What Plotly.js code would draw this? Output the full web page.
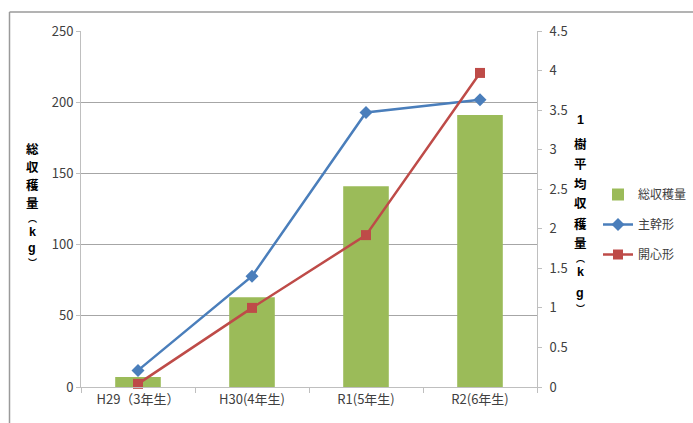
<!DOCTYPE html>
<html>
<head>
<meta charset="utf-8">
<script src="https://cdn.plot.ly/plotly-3.0.1.min.js"></script>
<style>html,body{margin:0;padding:0;background:#fff;}#chart{width:693px;height:423px;}</style>
</head>
<body>
<div id="chart"></div>
<script>
var categories = ["H29（3年生）", "H30(4年生)", "R1(5年生)", "R2(6年生)"];
var totalHarvest = [7, 63, 141, 191];
var mainTrunk = [0.21, 1.40, 3.47, 3.63];
var openCenter = [0.04, 1.00, 1.92, 3.97];
var seriesNames = ["総収穫量", "主幹形", "開心形"];
var leftTitleChars = ["総", "収", "穫", "量", "︵", "k", "g", "︶"];
var rightTitleChars = ["1", "樹", "平", "均", "収", "穫", "量", "︵", "k", "g", "︶"];

var W = 693, H = 423, L = 81, R = 537, T = 31, B = 387;
function px2x(p) { return (p - L) / (R - L); }
function py2y(p) { return (B - p) / (B - T); }

var FONT = "'Liberation Sans Narrow', 'Noto Sans CJK JP', sans-serif";
var CJK = "'Noto Sans CJK JP', sans-serif";
var LATIN = "'Liberation Sans', Arial, sans-serif";
var TXT = "#404040";

var traces = [
  {
    type: "bar", x: categories, y: totalHarvest, name: seriesNames[0],
    marker: {color: "#9bbb59"}, yaxis: "y", legendgroup: "a"
  },
  {
    type: "scatter", mode: "lines+markers", x: categories, y: mainTrunk, name: seriesNames[1],
    line: {color: "#4a7ebb", width: 2.5}, marker: {symbol: "diamond", size: 10, color: "#4a7ebb"},
    yaxis: "y2", legendgroup: "b", cliponaxis: false
  },
  {
    type: "scatter", mode: "lines+markers", x: categories, y: openCenter, name: seriesNames[2],
    line: {color: "#be4b48", width: 2.5}, marker: {symbol: "square", size: 10, color: "#be4b48"},
    yaxis: "y2", legendgroup: "c", cliponaxis: false
  }
];

// vertical (stacked) axis titles: one glyph per annotation, pixel centres for layout only
var leftTitleLayout = {x: 32, ys: [148, 166, 184, 202, 218, 232, 248, 262]};
var rightTitleLayout = {x: 580, ys: [120, 143, 163, 183, 203, 223, 242, 258, 272, 293, 308]};

function glyphFont(c) {
  if (c === "︵" || c === "︶") return {family: CJK, size: 9, color: "#000"};
  if (/[0-9a-z]/.test(c)) return {family: LATIN, size: 12.5, color: "#000"};
  return {family: CJK, size: 12.5, color: "#000"};
}

var annotations = [];
function addStack(chars, lay) {
  chars.forEach(function (c, i) {
    annotations.push({
      xref: "paper", yref: "paper", x: px2x(lay.x), y: py2y(lay.ys[i]),
      xanchor: "center", yanchor: "middle", text: "<b>" + c + "</b>",
      showarrow: false, font: glyphFont(c), borderpad: 0
    });
  });
}
addStack(leftTitleChars, leftTitleLayout);
addStack(rightTitleChars, rightTitleLayout);

var layout = {
  width: W, height: H,
  margin: {l: L, r: W - R, t: T, b: H - B, pad: 0, autoexpand: false},
  paper_bgcolor: "#fff", plot_bgcolor: "#fff",
  bargap: 0.6,
  showlegend: true,
  font: {family: FONT, size: 13, color: TXT},
  xaxis: {
    type: "category", showgrid: false, showline: true, linecolor: "#bfbfbf", linewidth: 1,
    ticks: "outside", tickson: "boundaries", ticklen: 5, tickcolor: "#bfbfbf",
    tickfont: {family: FONT, size: 13, color: TXT}, automargin: false
  },
  yaxis: {
    range: [0, 250], dtick: 50, showgrid: true, gridcolor: "#a6a6a6", gridwidth: 1,
    zeroline: false, showline: true, linecolor: "#bfbfbf", ticks: "outside", ticklen: 4,
    tickcolor: "#bfbfbf", tickfont: {family: FONT, size: 13, color: TXT}, automargin: false
  },
  yaxis2: {
    range: [0, 4.5], dtick: 0.5, overlaying: "y", side: "right", showgrid: false,
    zeroline: false, showline: true, linecolor: "#bfbfbf", ticks: "outside", ticklen: 4,
    tickcolor: "#bfbfbf", tickfont: {family: FONT, size: 13, color: TXT}, automargin: false,
    ticklabelstandoff: 5
  },
  legend: {
    x: px2x(598), y: py2y(180), xanchor: "left", yanchor: "top",
    traceorder: "grouped", tracegroupgap: 11, bgcolor: "rgba(0,0,0,0)",
    font: {family: CJK, size: 12, color: TXT}, itemwidth: 30
  },
  annotations: annotations,
  shapes: [
    {type: "line", xref: "paper", yref: "paper", x0: px2x(9.5), x1: px2x(700), y0: py2y(12), y1: py2y(12),
     line: {color: "#9a9a9a", width: 1.5}},
    {type: "line", xref: "paper", yref: "paper", x0: px2x(9.5), x1: px2x(9.5), y0: py2y(12), y1: py2y(430),
     line: {color: "#9a9a9a", width: 1.5}}
  ]
};

Plotly.newPlot("chart", traces, layout, {staticPlot: true, displayModeBar: false});
</script>
</body>
</html>
